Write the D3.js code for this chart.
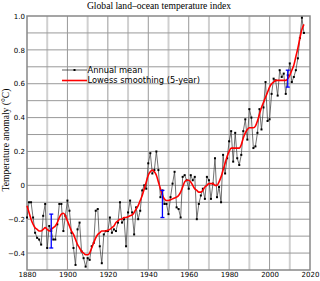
<!DOCTYPE html>
<html><head><meta charset="utf-8">
<script src="https://cdn.jsdelivr.net/npm/d3@7"></script>
<style>
html,body{margin:0;padding:0;background:#fff;}
svg{display:block;}
</style>
</head><body>
<svg id="chart" width="320" height="281"></svg>
<script>
const years = d3.range(1880, 2018);
const annualMean = [
-0.19,-0.10,-0.10,-0.19,-0.28,-0.31,-0.32,-0.35,-0.18,-0.11,
-0.37,-0.24,-0.27,-0.32,-0.32,-0.23,-0.11,-0.11,-0.27,-0.18,
-0.09,-0.15,-0.28,-0.37,-0.47,-0.26,-0.22,-0.39,-0.43,-0.48,
-0.43,-0.44,-0.36,-0.34,-0.15,-0.14,-0.36,-0.46,-0.29,-0.27,
-0.27,-0.19,-0.28,-0.26,-0.27,-0.22,-0.10,-0.22,-0.20,-0.36,
-0.16,-0.09,-0.16,-0.29,-0.13,-0.20,-0.15,-0.03,0.00,-0.02,
0.13,0.19,0.07,0.09,0.20,0.09,-0.07,-0.03,-0.11,-0.11,
-0.17,-0.07,0.01,0.08,-0.13,-0.14,-0.19,0.05,0.06,0.03,
-0.02,0.06,0.03,0.05,-0.20,-0.11,-0.06,-0.02,-0.08,0.05,
0.03,-0.08,0.01,0.16,-0.07,-0.01,-0.10,0.18,0.07,0.16,
0.26,0.32,0.14,0.31,0.16,0.12,0.18,0.32,0.39,0.27,
0.45,0.40,0.22,0.23,0.31,0.45,0.33,0.46,0.61,0.38,
0.39,0.54,0.63,0.62,0.53,0.68,0.64,0.66,0.54,0.65,
0.72,0.61,0.64,0.68,0.75,0.87,0.99,0.90
];
const lowess = [
-0.12,-0.16,-0.20,-0.23,-0.25,-0.26,-0.27,-0.27,-0.26,-0.25,
-0.26,-0.27,-0.26,-0.25,-0.24,-0.22,-0.19,-0.17,-0.165,-0.18,
-0.21,-0.24,-0.27,-0.29,-0.32,-0.35,-0.37,-0.39,-0.40,-0.41,
-0.41,-0.40,-0.37,-0.34,-0.31,-0.29,-0.28,-0.27,-0.27,-0.27,
-0.265,-0.26,-0.25,-0.24,-0.22,-0.21,-0.20,-0.20,-0.19,-0.19,
-0.185,-0.18,-0.175,-0.16,-0.14,-0.12,-0.09,-0.06,-0.02,0.02,
0.06,0.08,0.09,0.08,0.06,0.02,-0.02,-0.06,-0.08,-0.09,
-0.09,-0.085,-0.08,-0.075,-0.07,-0.06,-0.04,-0.01,0.02,0.03,
0.03,0.02,0.00,-0.02,-0.03,-0.04,-0.04,-0.03,-0.01,0.00,
0.01,0.01,0.01,0.00,0.00,0.02,0.05,0.09,0.13,0.17,
0.20,0.22,0.22,0.22,0.22,0.22,0.24,0.28,0.31,0.33,
0.34,0.34,0.34,0.35,0.38,0.42,0.46,0.49,0.52,0.55,
0.58,0.60,0.61,0.62,0.62,0.62,0.62,0.62,0.62,0.63,
0.65,0.68,0.71,0.76,0.81,0.87,0.92,0.95
];
const uncYears = [1892, 1947, 2009];
const uncLow = [-0.37, -0.19, 0.58];
const uncHigh = [-0.17, -0.03, 0.68];
const yTicks = [1.0, 0.8, 0.6, 0.4, 0.2, 0, -0.2, -0.4];
const yTickLabels = ["1.0","0.8","0.6","0.4","0.2","0","\u22120.2","\u22120.4"];
const xTicks = [1880,1900,1920,1940,1960,1980,2000,2020];
const legendLabels = ["Annual mean","Lowess smoothing (5-year)"];
const title = "Global land\u2013ocean temperature index";
const yTitle = "Temperature anomaly (\u00B0C)";

const svg = d3.select("#chart");
const L = 27, R = 310, T = 16, B = 270;
const x = d3.scaleLinear().domain([1880, 2020]).range([L, R]);
const y = d3.scaleLinear().domain([-0.5, 1.0]).range([B, T]);

// grid
const g = svg.append("g");
d3.range(1890, 2020, 20).forEach(yr => {
  g.append("line").attr("x1", x(yr)).attr("x2", x(yr)).attr("y1", T).attr("y2", B)
   .attr("stroke", "#d0d0d0").attr("stroke-width", 2);
});
d3.range(1900, 2020, 20).forEach(yr => {
  g.append("line").attr("x1", x(yr)).attr("x2", x(yr)).attr("y1", T).attr("y2", B)
   .attr("stroke", "#999").attr("stroke-width", 1);
});
d3.range(-4, 10).forEach(i => {
  const v = i / 10;
  g.append("line").attr("x1", L).attr("x2", R).attr("y1", y(v)).attr("y2", y(v))
   .attr("stroke", "#999").attr("stroke-width", 1);
});
// frame
svg.append("rect").attr("x", L).attr("y", T).attr("width", R - L).attr("height", B - T)
  .attr("fill", "none").attr("stroke", "#888").attr("stroke-width", 1.5);

// axes (labels only)
const yAxis = d3.axisLeft(y).tickValues(yTicks).tickSize(0).tickPadding(2)
  .tickFormat((d, i) => yTickLabels[i]);
svg.append("g").attr("transform", `translate(${L},0)`).call(yAxis)
  .call(s => s.select(".domain").remove())
  .selectAll("text").attr("font-family", "DejaVu Sans").attr("font-size", 7).attr("fill", "#000");
const xAxis = d3.axisBottom(x).tickValues(xTicks).tickSize(0).tickPadding(2).tickFormat(d3.format("d"));
svg.append("g").attr("transform", `translate(0,${B})`).call(xAxis)
  .call(s => s.select(".domain").remove())
  .selectAll("text").attr("font-family", "DejaVu Sans").attr("font-size", 7).attr("fill", "#000");

const data = years.map((yr, i) => ({yr, v: annualMean[i], s: lowess[i]}));

// annual line + points
svg.append("path").datum(data)
  .attr("d", d3.line().x(d => x(d.yr)).y(d => y(d.v)))
  .attr("fill", "none").attr("stroke", "#333").attr("stroke-width", 0.7);
svg.append("g").selectAll("rect").data(data).join("rect")
  .attr("x", d => x(d.yr) - 1).attr("y", d => y(d.v) - 1)
  .attr("width", 2).attr("height", 2).attr("fill", "#000");

// lowess
svg.append("path").datum(data)
  .attr("d", d3.line().curve(d3.curveMonotoneX).x(d => x(d.yr)).y(d => y(d.s)))
  .attr("fill", "none").attr("stroke", "#f00").attr("stroke-width", 1.6);

// uncertainty bars
const ub = svg.append("g").attr("stroke", "#00f").attr("stroke-width", 1.3);
uncYears.forEach((yr, i) => {
  ub.append("line").attr("x1", x(yr)).attr("x2", x(yr)).attr("y1", y(uncLow[i])).attr("y2", y(uncHigh[i]));
  ub.append("line").attr("x1", x(yr) - 2).attr("x2", x(yr) + 2).attr("y1", y(uncLow[i])).attr("y2", y(uncLow[i]));
  ub.append("line").attr("x1", x(yr) - 2).attr("x2", x(yr) + 2).attr("y1", y(uncHigh[i])).attr("y2", y(uncHigh[i]));
});

// legend
const lg = svg.append("g");
lg.append("line").attr("x1", 62).attr("x2", 87).attr("y1", 70).attr("y2", 70).attr("stroke", "#333").attr("stroke-width", 0.8);
lg.append("rect").attr("x", 73.5).attr("y", 69).attr("width", 2).attr("height", 2).attr("fill", "#000");
lg.append("line").attr("x1", 62).attr("x2", 87).attr("y1", 80.5).attr("y2", 80.5).attr("stroke", "#f00").attr("stroke-width", 1.6);
legendLabels.forEach((t, i) => {
  lg.append("text").attr("x", 87.5).attr("y", 70 + i * 10.5).attr("dy", "0.35em")
    .attr("font-family", "DejaVu Sans").attr("font-size", 8.3).text(t);
});

// titles
svg.append("text").attr("x", 159).attr("y", 8.5).attr("text-anchor", "middle")
  .attr("font-family", "Liberation Serif").attr("font-size", 9.6).text(title);
svg.append("text").attr("transform", "translate(9,140) rotate(-90)").attr("text-anchor", "middle")
  .attr("font-family", "Liberation Serif").attr("font-size", 9.6).text(yTitle);
</script>
</body></html>
